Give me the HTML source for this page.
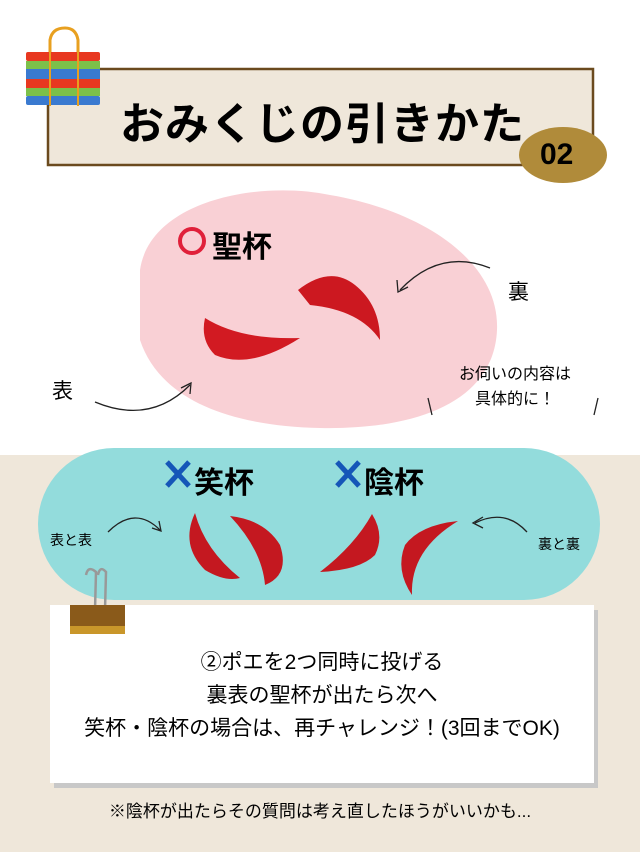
<!DOCTYPE html>
<html><head><meta charset="utf-8"><style>
body{margin:0;width:640px;height:852px;position:relative;overflow:hidden;background:#fff;font-family:"Liberation Sans","Noto Sans CJK JP",sans-serif;}
.a{position:absolute}
</style></head><body>
<div class="a" style="left:0;top:455px;width:640px;height:397px;background:#efe7da"></div>
<svg class="a" style="left:0;top:0" width="640" height="852">
<path d="M140,270 C150,200 260,180 330,195 C420,210 500,260 497,330 C494,400 420,430 320,428 C230,426 160,400 140,340 Z" fill="#f9d0d5"/>
<rect x="38" y="448" width="562" height="152" rx="76" fill="#93dcdc"/>
<rect x="48" y="69" width="545" height="96" fill="#efe7da" stroke="#6b4a1e" stroke-width="2.5"/>
<!-- bag -->
<path d="M50,58 L50,40 Q52,28 65,28 Q76,28 78,40 L78,58" fill="none" stroke="#e8a020" stroke-width="3"/>
<g>
<rect x="26" y="52" width="74" height="9" fill="#e83820" rx="2"/>
<rect x="26" y="61" width="74" height="8" fill="#7cc04a"/>
<rect x="26" y="69" width="74" height="10" fill="#3a7ad0"/>
<rect x="26" y="79" width="74" height="9" fill="#e83820"/>
<rect x="26" y="88" width="74" height="8" fill="#7cc04a"/>
<rect x="26" y="96" width="74" height="9" fill="#3a7ad0" rx="2"/>
</g>
<line x1="50" y1="52" x2="50" y2="106" stroke="#e8a020" stroke-width="2"/>
<line x1="78" y1="52" x2="78" y2="106" stroke="#e8a020" stroke-width="2"/>
<ellipse cx="563" cy="155" rx="44" ry="28" fill="#b08b3a"/>
<!-- cups top -->
<path d="M205,318 Q240,340 300,338 Q250,370 215,355 Q200,340 205,318Z" fill="#d21a22"/>
<path d="M298,290 Q330,265 355,285 Q380,305 380,340 Q360,310 310,305Z" fill="#cc1820"/>
<!-- cups bottom -->
<path d="M195,513 Q180,545 205,570 Q225,582 240,578 Q205,550 195,513Z" fill="#c41820"/>
<path d="M230,516 Q265,520 280,545 Q290,575 265,585 Q262,550 230,516Z" fill="#c41820"/>
<path d="M372,514 Q385,535 375,555 Q360,570 320,572 Q355,545 372,514Z" fill="#c41820"/>
<path d="M458,521 Q420,525 405,545 Q395,570 412,595 Q410,550 458,521Z" fill="#c41820"/>
<!-- arrows -->
<g fill="none" stroke="#222" stroke-width="1.3">
<path d="M95,402 Q150,425 190,385"/><path d="M181,388 L191,383 L190,394"/>
<path d="M490,268 Q440,248 400,290"/><path d="M397,280 L398,292 L408,287"/>
<path d="M108,532 Q135,505 160,530"/><path d="M152,528 L161,531 L159,521"/>
<path d="M527,532 Q505,508 475,523"/><path d="M483,517 L473,523 L483,528"/>
<path d="M428,398 L432,415"/><path d="M598,398 L594,415"/>
</g>
<circle cx="192" cy="241" r="12" fill="none" stroke="#e0203a" stroke-width="4"/>
<g stroke="#1556b8" stroke-width="5"><path d="M167,462 L189,486 M189,462 L167,486"/><path d="M337,462 L359,486 M359,462 L337,486"/></g>
<!-- note -->
<rect x="54" y="610" width="544" height="178" fill="#c8c8c8"/>
<rect x="50" y="605" width="544" height="178" fill="#fff"/>
<path d="M86,575 Q88,565 96,572 L95,610 M98,575 Q100,565 106,572 L105,610" fill="none" stroke="#999" stroke-width="2.5"/>
<rect x="70" y="605" width="55" height="28" fill="#8a5a1a"/>
<rect x="70" y="626" width="55" height="8" fill="#c9962a"/>
</svg>
<div class="a" style="left:120px;top:88px;font-size:44px;font-weight:bold;letter-spacing:1px">おみくじの引きかた</div>
<div class="a" style="left:540px;top:138px;font-size:30px;font-weight:bold">02</div>
<div class="a" style="left:212px;top:222px;font-size:30px;font-weight:bold">聖杯</div>
<div class="a" style="left:508px;top:276px;font-size:21px">裏</div>
<div class="a" style="left:52px;top:375px;font-size:21px">表</div>
<div class="a" style="left:440px;top:362px;font-size:16px;line-height:25px;text-align:center;width:150px">お伺いの内容は<br>具体的に！</div>
<div class="a" style="left:194px;top:458px;font-size:30px;font-weight:bold">笑杯</div>
<div class="a" style="left:364px;top:458px;font-size:30px;font-weight:bold">陰杯</div>
<div class="a" style="left:50px;top:530px;font-size:14px">表と表</div>
<div class="a" style="left:538px;top:534px;font-size:14px">裏と裏</div>
<div class="a" style="left:50px;top:646px;width:544px;text-align:center;font-size:21px;line-height:33px">②ポエを2つ同時に投げる<br>裏表の聖杯が出たら次へ<br>笑杯・陰杯の場合は、再チャレンジ！(3回までOK)</div>
<div class="a" style="left:0;top:797px;width:640px;text-align:center;font-size:17px">※陰杯が出たらその質問は考え直したほうがいいかも...</div>
</body></html>
